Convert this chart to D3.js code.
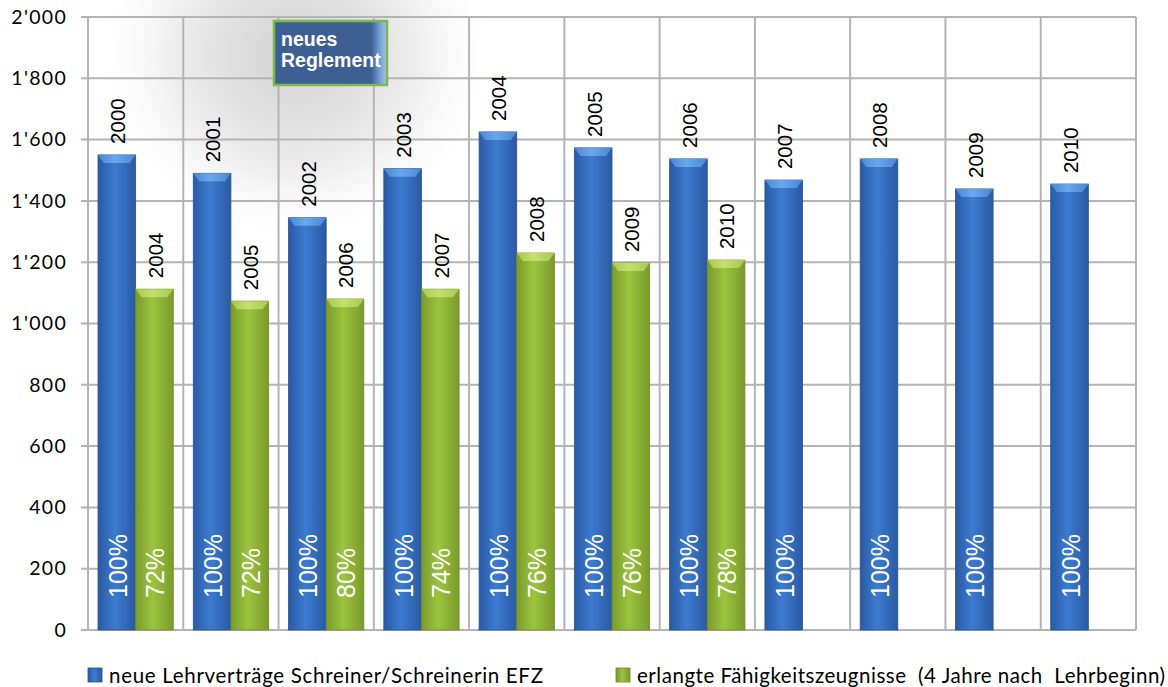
<!DOCTYPE html>
<html><head><meta charset="utf-8">
<script src="https://cdn.jsdelivr.net/npm/d3@7"></script>
<style>body{margin:0;background:#fff}svg{display:block}</style>
</head><body>
<svg id="c" width="1168" height="687"></svg>
<script>
const categories = ["2000","2001","2002","2003","2004","2005","2006","2007","2008","2009","2010"];
const contracts = [1550,1490,1345,1505,1625,1573,1537,1468,1537,1439,1455];
const certYears = ["2004","2005","2006","2007","2008","2009","2010",null,null,null,null];
const certificates = [1112,1073,1080,1112,1230,1197,1207,null,null,null,null];
const contractPct = ["100%","100%","100%","100%","100%","100%","100%","100%","100%","100%","100%"];
const certPct = ["72%","72%","80%","74%","76%","76%","78%",null,null,null,null];
const yTicks = [0,200,400,600,800,1000,1200,1400,1600,1800,2000];
const seriesNames = ["neue Lehrverträge Schreiner/Schreinerin EFZ","erlangte Fähigkeitszeugnisse  (4 Jahre nach  Lehrbeginn)"];
const boxText = ["neues","Reglement"];

const svg = d3.select("#c");
const L=88, R=1136, T=17, B=630;
const x = d3.scaleBand().domain(categories).range([L,R]).padding(0);
const sub = d3.scaleBand().domain([0,1]).range([10, x.bandwidth()-10]).padding(0);
const y = d3.scaleLinear().domain([0,2000]).range([B,T]);
const loc = d3.formatLocale({decimal:".",thousands:"'",grouping:[3],currency:["",""]});
const fmt = loc.format(",");

const defs = svg.append("defs");
const rg = defs.append("radialGradient").attr("id","glow").attr("cx","0.5").attr("cy","0.5").attr("r","0.5");
rg.append("stop").attr("offset","0").attr("stop-color","#d2d2d2");
rg.append("stop").attr("offset","0.3").attr("stop-color","#dedede");
rg.append("stop").attr("offset","0.65").attr("stop-color","#f0f0f0");
rg.append("stop").attr("offset","1").attr("stop-color","#ffffff").attr("stop-opacity","0");
function hgrad(id, edge, mid){
  const g = defs.append("linearGradient").attr("id",id).attr("x1","0").attr("x2","1").attr("y1","0").attr("y2","0");
  g.append("stop").attr("offset","0").attr("stop-color",edge);
  g.append("stop").attr("offset","0.45").attr("stop-color",mid);
  g.append("stop").attr("offset","1").attr("stop-color",edge);
}
hgrad("gBlue","#2b5aa3","#3c7bd0");
hgrad("gGreen","#7a9b2c","#9cc43e");
hgrad("gBlueTop","#4a86d4","#6aa8ec");
hgrad("gGreenTop","#a8c84c","#c4e070");
const bx = defs.append("linearGradient").attr("id","gBox").attr("x1","0").attr("x2","1");
bx.append("stop").attr("offset","0").attr("stop-color","#3e5f93");
bx.append("stop").attr("offset","0.86").attr("stop-color","#3e5f93");
bx.append("stop").attr("offset","0.93").attr("stop-color","#6f9ad0");
bx.append("stop").attr("offset","1").attr("stop-color","#a8c8ee");

// background glow
svg.append("ellipse").attr("cx",295).attr("cy",55).attr("rx",200).attr("ry",190).attr("fill","url(#glow)");

// gridlines
const grid = svg.append("g").attr("stroke","#b4b4b4").attr("stroke-width",2);
grid.selectAll("line.h").data(yTicks).join("line").attr("class","h")
  .attr("x1",L-7).attr("x2",R).attr("y1",d=>y(d)).attr("y2",d=>y(d));
const vlines = categories.map(c=>x(c)).concat([R]);
grid.selectAll("line.v").data(vlines).join("line").attr("class","v")
  .attr("x1",d=>d).attr("x2",d=>d).attr("y1",T).attr("y2",B);

// y axis labels
const ax = svg.append("g").attr("transform",`translate(${L-7},0)`)
  .call(d3.axisLeft(y).tickValues(yTicks).tickFormat(fmt).tickSize(0).tickPadding(14));
ax.select(".domain").remove();
ax.selectAll("text").attr("font-family","Lato, 'Open Sans', sans-serif").attr("font-size",19.5)
  .attr("letter-spacing","1.3px").attr("fill","#000");

// bars
function drawBars(vals, si, fill, topFill, stroke){
  const g = svg.append("g");
  const data = categories.map((c,i)=>({c,v:vals[i]})).filter(d=>d.v!=null);
  const w = sub.bandwidth();
  g.selectAll("rect").data(data).join("rect")
    .attr("x",d=>x(d.c)+sub(si)).attr("y",d=>y(d.v)).attr("width",w).attr("height",d=>B-y(d.v))
    .attr("fill",fill).attr("stroke",stroke).attr("stroke-width",0.8);
  g.selectAll("path").data(data).join("path")
    .attr("d",d=>{const x0=x(d.c)+sub(si), y0=y(d.v), h=8;
      return `M${x0},${y0}L${x0+w},${y0}L${x0+w-6},${y0+h}L${x0+6},${y0+h}Z`;})
    .attr("fill",topFill);
}
drawBars(contracts,0,"url(#gBlue)","url(#gBlueTop)","#2a5590");
drawBars(certificates,1,"url(#gGreen)","url(#gGreenTop)","#6f8c28");

// year labels above bars
function yearLabels(vals, labels, si){
  const data = categories.map((c,i)=>({c,v:vals[i],l:labels[i]})).filter(d=>d.v!=null);
  svg.append("g").selectAll("text").data(data).join("text")
    .attr("transform",d=>`translate(${x(d.c)+sub(si)+sub.bandwidth()/2+1},${y(d.v)-11}) rotate(-90)`)
    .attr("dy","0.36em").attr("font-family","'Liberation Sans', Arial, sans-serif").attr("font-size",20.5).attr("fill","#000")
    .text(d=>d.l);
}
yearLabels(contracts, categories, 0);
yearLabels(certificates, certYears, 1);

// percent labels
function pctLabels(vals, labels, si){
  const data = categories.map((c,i)=>({c,v:vals[i],l:labels[i]})).filter(d=>d.v!=null);
  svg.append("g").selectAll("text").data(data).join("text")
    .attr("transform",d=>`translate(${x(d.c)+sub(si)+sub.bandwidth()/2+1},${y(0)-32}) rotate(-90)`)
    .attr("dy","0.36em").attr("font-family","'Liberation Sans', Arial, sans-serif").attr("font-size",25).attr("fill","#fff")
    .text(d=>d.l);
}
pctLabels(contracts, contractPct, 0);
pctLabels(certificates, certPct, 1);

// neues Reglement box
const box = svg.append("g");
box.append("rect").attr("x",274).attr("y",21).attr("width",113).attr("height",64)
  .attr("fill","url(#gBox)").attr("stroke","#7fb84a").attr("stroke-width",2.5);
box.selectAll("text").data(boxText).join("text")
  .attr("x",281).attr("y",(d,i)=>46+i*21).attr("font-family","'Liberation Sans', Arial, sans-serif")
  .attr("font-weight","bold").attr("font-size",19.5).attr("fill","#fff").text(d=>d);

// legend
const leg = svg.append("g");
const legX = [88,616];
const legLen = [434,528];
const legFill = ["url(#gBlue)","url(#gGreen)"];
const legStroke = ["#2a5590","#6f8c28"];
seriesNames.forEach((n,i)=>{
  leg.append("rect").attr("x",legX[i]).attr("y",668).attr("width",14).attr("height",14)
    .attr("fill",legFill[i]).attr("stroke",legStroke[i]).attr("stroke-width",0.8);
  leg.append("text").attr("x",legX[i]+21).attr("y",683).attr("font-family","Lato, 'Open Sans', sans-serif")
    .attr("font-size",20.5).attr("fill","#000").attr("textLength",legLen[i]).attr("lengthAdjust","spacing")
    .style("white-space","pre").text(n);
});
</script>
</body></html>
